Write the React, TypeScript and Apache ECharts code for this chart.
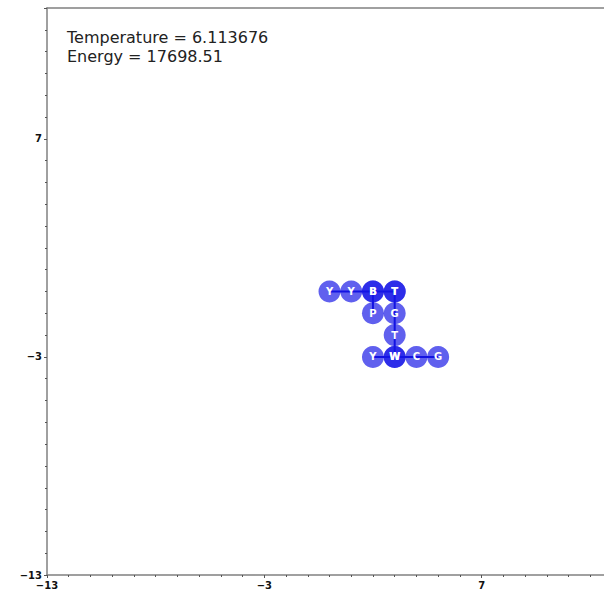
import React, { useEffect, useRef } from "react";
import * as echarts from "echarts";

// Residue positions along visible chain segments: [x, y, label]
const segmentA: [number, number, string][] = [
  [0, 0, "Y"],
  [1, 0, "Y"],
  [2, 0, "B"],
  [3, 0, "T"],
];
const segmentB: [number, number, string][] = [
  [3, 0, "T"],
  [3, -1, "G"],
  [3, -2, "T"],
  [3, -3, "W"],
];
const segmentC: [number, number, string][] = [
  [2, -3, "Y"],
  [3, -3, "W"],
  [4, -3, "C"],
  [5, -3, "G"],
];
const segmentD: [number, number, string][] = [
  [2, 0, "B"],
  [2, -1, "P"],
];
const segments = [segmentA, segmentB, segmentC, segmentD];

const axisMin = -13;
const axisMax = 13;
const axisInterval = 10;
const temperature = "6.113676";
const energy = "17698.51";

const fmt = (v: number) => (v < 0 ? "\u2212" + Math.abs(v) : String(v));

export default function App() {
  const ref = useRef<HTMLDivElement>(null);
  useEffect(() => {
    if (!ref.current) return;
    const chart = echarts.init(ref.current, undefined, { renderer: "svg" });
    const axisCommon = {
      type: "value" as const,
      min: axisMin,
      max: axisMax,
      interval: axisInterval,
      splitLine: { show: false },
      axisLine: { show: true, onZero: false, lineStyle: { color: "#808080", width: 1.5 } },
      axisTick: { show: true, length: 3, lineStyle: { color: "#555", width: 1 } },
      minorTick: { show: true, splitNumber: 10, length: 2, lineStyle: { color: "#555", width: 1 } },
      axisLabel: {
        showMaxLabel: false,
        formatter: fmt,
        fontFamily: "DejaVu Sans",
        fontWeight: "bold" as const,
        fontSize: 10,
        color: "#111",
        margin: 5,
      },
    };
    chart.setOption({
      animation: false,
      backgroundColor: "#ffffff",
      grid: {
        left: 47,
        top: 8,
        width: 565,
        height: 567,
        show: false,
      },
      xAxis: [
        { ...axisCommon },
        {
          type: "value",
          position: "top",
          min: axisMin,
          max: axisMax,
          axisLine: { show: true, onZero: false, lineStyle: { color: "#808080", width: 1.5 } },
          axisTick: { show: false },
          axisLabel: { show: false },
          splitLine: { show: false },
        },
      ],
      yAxis: { ...axisCommon },
      graphic: [
        {
          type: "text",
          left: 67,
          top: 28,
          style: {
            text: `Temperature = ${temperature}\nEnergy = ${energy}`,
            fontFamily: "DejaVu Sans",
            fontSize: 16,
            lineHeight: 19,
            fill: "#222",
          },
        },
      ],
      series: segments.map((seg) => ({
        type: "line",
        data: seg.map((p) => ({ value: [p[0], p[1]], name: p[2] })),
        symbol: "circle",
        symbolSize: 22,
        showAllSymbol: true,
        lineStyle: { color: "#1010d8", width: 2 },
        itemStyle: { color: "rgba(20,20,230,0.68)", borderWidth: 0 },
        label: {
          show: true,
          position: "inside",
          formatter: (p: any) => p.name,
          color: "#ffffff",
          fontFamily: "DejaVu Sans",
          fontWeight: "bold",
          fontSize: 10,
        },
        emphasis: { disabled: true },
        z: 3,
      })),
    });
    return () => chart.dispose();
  }, []);
  return (
    <div
      style={{
        position: "absolute",
        left: 0,
        top: 0,
        width: 604,
        height: 590,
        overflow: "hidden",
      }}
    >
      <div ref={ref} style={{ width: 625, height: 590 }} />
    </div>
  );
}
